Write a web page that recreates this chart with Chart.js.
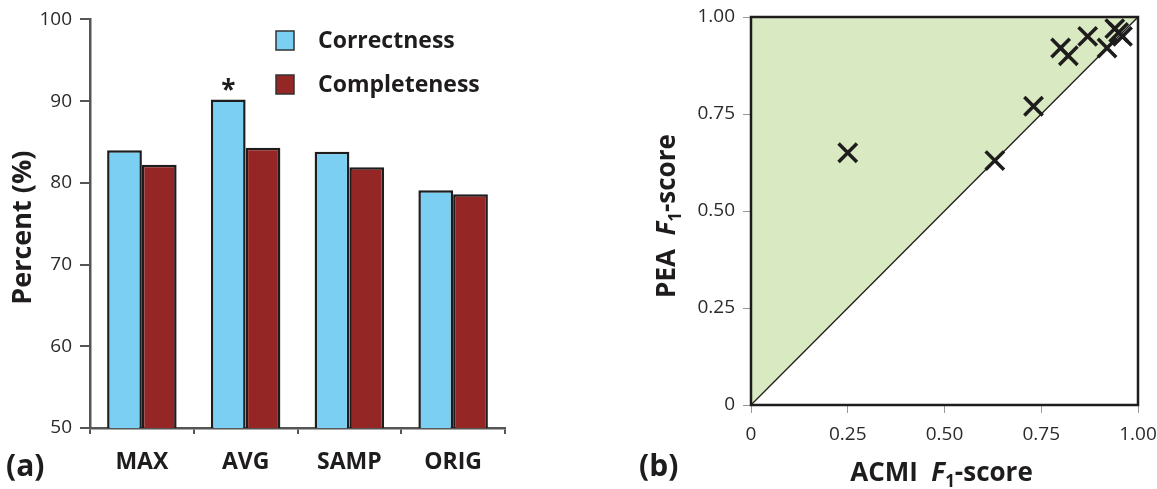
<!DOCTYPE html>
<html>
<head>
<meta charset="utf-8">
<script src="https://cdn.jsdelivr.net/npm/chart.js@4.4.1/dist/chart.umd.min.js"></script>
<style>
  html, body { margin: 0; padding: 0; background: #fff; }
  #wrap { position: relative; width: 1157px; height: 489px; overflow: hidden; }
  #barCanvas { position: absolute; left: 0; top: 0; }
  #scatterCanvas { position: absolute; left: 600px; top: 0; }
</style>
</head>
<body>
<div id="wrap">
  <canvas id="barCanvas" width="560" height="489"></canvas>
  <canvas id="scatterCanvas" width="557" height="489"></canvas>
</div>
<script>
const FONT = "'Open Sans', 'Noto Sans', sans-serif";

// --- (a) bar chart data
const methods = ['MAX', 'AVG', 'SAMP', 'ORIG'];
const correctness = [84.0, 90.2, 83.8, 79.1];
const completeness = [82.2, 84.3, 81.9, 78.6];
const percentTicks = [50, 60, 70, 80, 90, 100];

// --- (b) scatter data
const acmiF1 = [0.25, 0.63, 0.73, 0.80, 0.82, 0.87, 0.92, 0.94, 0.95, 0.96];
const peaF1  = [0.65, 0.63, 0.77, 0.92, 0.90, 0.95, 0.92, 0.97, 0.96, 0.95];
const f1Ticks = [0, 0.25, 0.5, 0.75, 1];
const f1TickLabels = ['0', '0.25', '0.50', '0.75', '1.00'];
const diagonal = [{ x: 0, y: 0 }, { x: 1, y: 1 }];

const BLUE = '#7acff3';
const RED = '#942626';
const INK = '#1f1c1d';

// draws text made of several styled pieces (for F with subscript 1)
function drawPieces(ctx, pieces, cx, baseY) {
    let total = 0;
    pieces.forEach(p => {
        ctx.font = p.font;
        p.w = ctx.measureText(p.t).width;
        total += p.w;
    });
    let x = cx - total / 2;
    ctx.textAlign = 'left';
    ctx.textBaseline = 'alphabetic';
    pieces.forEach(p => {
        ctx.font = p.font;
        ctx.fillText(p.t, x, baseY + (p.dy || 0));
        x += p.w;
    });
}

function f1Title(prefix) {
    return [
        { t: prefix, font: 'bold 26px ' + FONT },
        { t: 'F', font: 'italic bold 26px ' + FONT },
        { t: '1', font: 'bold 17px ' + FONT, dy: 6 },
        { t: '-score', font: 'bold 26px ' + FONT }
    ];
}

// Decorations for (a): axis title, legend, star, panel label
const barDecor = {
    id: 'barDecor',
    afterDraw(chart) {
        const ctx = chart.ctx;
        const area = chart.chartArea;
        ctx.save();
        ctx.fillStyle = INK;

        // y title
        ctx.save();
        ctx.translate(31, (area.top + area.bottom) / 2 + 4);
        ctx.rotate(-Math.PI / 2);
        ctx.font = 'bold 27px ' + FONT;
        ctx.textAlign = 'center';
        ctx.textBaseline = 'alphabetic';
        ctx.fillText('Percent (%)', 0, 0);
        ctx.restore();

        // significance star above AVG correctness bar
        const bar = chart.getDatasetMeta(0).data[1];
        ctx.font = 'bold 26px ' + FONT;
        ctx.textAlign = 'center';
        ctx.textBaseline = 'middle';
        ctx.fillText('*', bar.x, bar.y - 8);

        // legend
        chart.data.datasets.forEach((ds, i) => {
            const y = 31 + i * 44;
            ctx.fillStyle = ds.backgroundColor;
            ctx.fillRect(276, y, 18, 19);
            ctx.strokeStyle = '#333';
            ctx.lineWidth = 1.5;
            ctx.strokeRect(276, y, 18, 19);
            ctx.fillStyle = INK;
            ctx.font = 'bold 23px ' + FONT;
            ctx.textAlign = 'left';
            ctx.textBaseline = 'middle';
            ctx.fillText(ds.label, 318, y + 10);
        });

        // panel label
        ctx.font = 'bold 30px ' + FONT;
        ctx.textAlign = 'left';
        ctx.textBaseline = 'alphabetic';
        ctx.fillText('(a)', 6, 476);
        ctx.restore();
    }
};

new Chart(document.getElementById('barCanvas'), {
    type: 'bar',
    data: {
        labels: methods,
        datasets: [
            { label: 'Correctness', data: correctness, backgroundColor: BLUE,
              borderColor: INK, borderWidth: 2.5 },
            { label: 'Completeness', data: completeness, backgroundColor: RED,
              borderColor: INK, borderWidth: 2.5 }
        ]
    },
    options: {
        responsive: false,
        animation: false,
        categoryPercentage: 0.67,
        barPercentage: 1.0,
        layout: { padding: { left: 0, right: 55, top: 19, bottom: 0 } },
        plugins: { legend: { display: false }, tooltip: { enabled: false } },
        scales: {
            y: {
                min: 50,
                max: 100,
                afterBuildTicks: s => { s.ticks = percentTicks.map(v => ({ value: v })); },
                afterFit: s => { s.width = 90; },
                grid: { drawOnChartArea: false, tickLength: 10, color: '#555', lineWidth: 2 },
                border: { display: true, color: '#555', width: 2.5 },
                ticks: { font: { family: FONT, size: 19 }, color: '#2a2a2a', padding: 8 }
            },
            x: {
                afterFit: s => { s.height = 61; },
                grid: { offset: true, drawOnChartArea: false, tickLength: 6, color: '#555', lineWidth: 2 },
                border: { display: true, color: '#555', width: 2.5 },
                ticks: { font: { family: FONT, size: 23, weight: 'bold' }, color: INK, padding: 15 }
            }
        }
    },
    plugins: [barDecor]
});

// Decorations for (b): frame, axis titles, panel label
const scatterDecor = {
    id: 'scatterDecor',
    afterDatasetsDraw(chart) {
        const ctx = chart.ctx;
        const a = chart.chartArea;
        ctx.save();
        ctx.strokeStyle = INK;
        ctx.lineWidth = 2.5;
        ctx.strokeRect(a.left, a.top, a.right - a.left, a.bottom - a.top);
        ctx.restore();
    },
    afterDraw(chart) {
        const ctx = chart.ctx;
        const a = chart.chartArea;
        ctx.save();
        ctx.fillStyle = INK;
        drawPieces(ctx, f1Title('ACMI  '), (a.left + a.right) / 2 - 3, 481);

        ctx.save();
        ctx.translate(75, (a.top + a.bottom) / 2 + 5);
        ctx.rotate(-Math.PI / 2);
        drawPieces(ctx, f1Title('PEA  '), 0, 0);
        ctx.restore();

        ctx.font = 'bold 30px ' + FONT;
        ctx.textAlign = 'left';
        ctx.textBaseline = 'alphabetic';
        ctx.fillText('(b)', 39, 476);
        ctx.restore();
    }
};

new Chart(document.getElementById('scatterCanvas'), {
    type: 'scatter',
    data: {
        datasets: [
            { label: 'PEA = ACMI', data: diagonal, showLine: true, fill: 'end',
              backgroundColor: '#d9e9c1', borderColor: INK, borderWidth: 1.3,
              pointRadius: 0, order: 2 },
            { label: 'F1-score', data: acmiF1.map((x, i) => ({ x: x, y: peaF1[i] })),
              pointStyle: 'crossRot', pointRadius: 13, borderWidth: 3.5,
              borderColor: INK, backgroundColor: INK, order: 1 }
        ]
    },
    options: {
        responsive: false,
        animation: false,
        layout: { padding: { left: 0, right: 19, top: 17, bottom: 0 } },
        plugins: { legend: { display: false }, tooltip: { enabled: false } },
        scales: {
            x: {
                type: 'linear',
                min: 0,
                max: 1,
                afterBuildTicks: s => { s.ticks = f1Ticks.map(v => ({ value: v })); },
                afterFit: s => { s.height = 84; s.paddingLeft = 0; s.paddingRight = 0; },
                grid: { drawOnChartArea: false, tickLength: 8, color: '#999', lineWidth: 1 },
                border: { display: false },
                ticks: {
                    font: { family: FONT, size: 19 }, color: '#2a2a2a', padding: 10,
                    callback: v => f1TickLabels[f1Ticks.indexOf(v)]
                }
            },
            y: {
                type: 'linear',
                min: 0,
                max: 1,
                afterBuildTicks: s => { s.ticks = f1Ticks.map(v => ({ value: v })); },
                afterFit: s => { s.width = 151; s.paddingTop = 0; s.paddingBottom = 0; },
                grid: { drawOnChartArea: false, tickLength: 8, color: '#999', lineWidth: 1 },
                border: { display: false },
                ticks: {
                    font: { family: FONT, size: 19 }, color: '#2a2a2a', padding: 8,
                    callback: v => f1TickLabels[f1Ticks.indexOf(v)]
                }
            }
        }
    },
    plugins: [scatterDecor]
});
</script>
</body>
</html>
